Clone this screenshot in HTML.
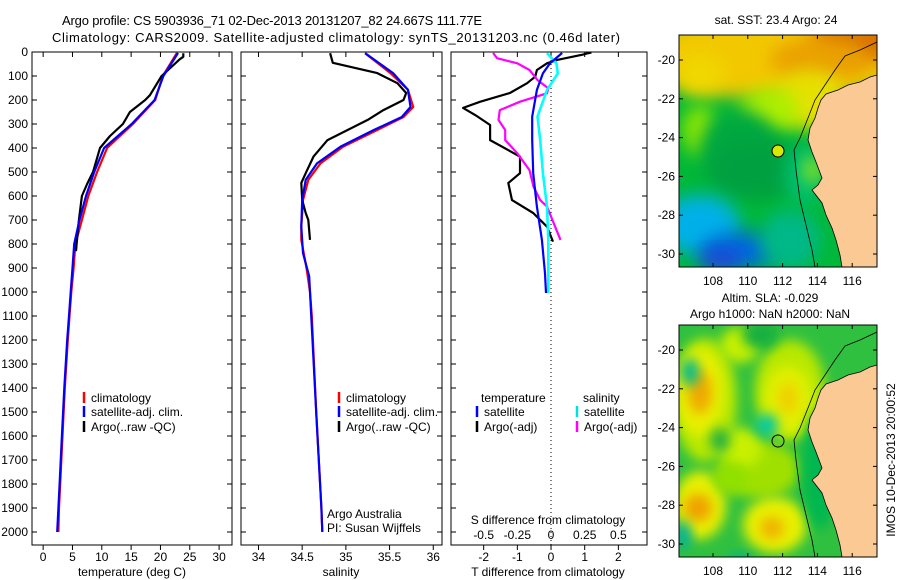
<!DOCTYPE html>
<html><head><meta charset="utf-8">
<style>
html,body{margin:0;padding:0;background:#fff;}
svg{display:block;font-family:"Liberation Sans",sans-serif;}
text{font-size:12px;fill:#000;}
</style></head>
<body>
<svg id="fig" width="900" height="580" viewBox="0 0 900 580" xmlns="http://www.w3.org/2000/svg">
<defs>
<filter id="blur8" x="-50%" y="-50%" width="200%" height="200%"><feGaussianBlur stdDeviation="9"/></filter>
<filter id="blur4" x="-50%" y="-50%" width="200%" height="200%"><feGaussianBlur stdDeviation="6"/></filter>
<clipPath id="clipTop"><rect x="679" y="35" width="198" height="232"/></clipPath>
<clipPath id="clipBot"><rect x="679" y="325" width="198" height="232"/></clipPath>
</defs>
<text x="272" y="25" text-anchor="middle" style="font-size:13px" textLength="420" lengthAdjust="spacing">Argo profile: CS 5903936_71 02-Dec-2013 20131207_82 24.667S 111.77E</text>
<text x="336" y="42" text-anchor="middle" style="font-size:13px" textLength="568" lengthAdjust="spacing">Climatology: CARS2009. Satellite-adjusted climatology: synTS_20131203.nc (0.46d later)</text>
<g id="charts"></g>
<g id="maps"></g>
</svg>
<script>
// ---- data: depths (m) and values ----
const tClimDepth = [4,100,200,300,400,500,600,700,800,900,1000,1100,1200,1400,1600,1800,1900,2000];
const tClimVal   = [22.8,20.4,19.1,15.3,10.9,9.2,7.7,6.6,5.5,5.2,4.8,4.5,4.2,3.7,3.3,2.9,2.7,2.6];
const tSatDepth  = [4,100,200,300,400,500,600,700,800,900,1000,1100,1200,1400,1600,1800,1900,2000];
const tSatVal    = [23.0,20.5,19.0,15.1,10.4,8.7,7.3,6.2,5.3,5.0,4.7,4.4,4.1,3.6,3.2,2.8,2.6,2.4];
const tArgoDepth = [5,20,30,100,180,200,250,300,350,400,500,550,600,700,800,830];
const tArgoVal   = [23.9,23.9,23.3,20.2,18.2,17.4,14.8,13.6,11.4,9.7,8.5,7.5,6.6,6.1,5.7,5.6];

const sClimDepth = [5,88,157,229,271,325,394,464,533,617,728,783,900,1000,1100,1500,1900,2000];
const sClimVal   = [35.22,35.51,35.71,35.77,35.66,35.36,34.97,34.71,34.57,34.51,34.49,34.49,34.55,34.59,34.61,34.66,34.72,34.73];
const sSatDepth  = [5,88,157,229,271,325,394,464,533,617,728,838,935,1000,1500,1900,2000];
const sSatVal    = [35.22,35.54,35.71,35.74,35.64,35.32,34.94,34.67,34.54,34.5,34.49,34.51,34.58,34.59,34.66,34.72,34.73];
const sArgoDepth = [5,45,88,130,171,200,242,283,325,367,436,505,546,617,671,700,783];
const sArgoVal   = [34.82,34.85,35.36,35.59,35.69,35.66,35.43,35.25,35.02,34.79,34.63,34.54,34.49,34.5,34.54,34.57,34.59];

const dTArgoDepth = [2,6,11,33,47,75,103,130,171,207,233,267,304,367,436,505,546,617,671,728,790];
const dTArgoVal   = [1.2,1.07,0.95,0.18,-0.12,-0.42,-0.47,-0.71,-1.22,-2.1,-2.61,-2.2,-1.81,-1.81,-0.92,-0.92,-1.27,-1.16,-0.53,-0.12,0.06];
const dTSatDepth  = [4,47,89,158,269,367,505,644,783,922,1004];
const dTSatVal    = [0.33,-0.03,-0.24,-0.42,-0.56,-0.56,-0.53,-0.42,-0.27,-0.18,-0.15];
const dSSatDepth  = [4,47,89,158,269,367,505,644,783,1004];
const dSSatVal    = [-0.03,0.04,0.05,-0.03,-0.10,-0.08,-0.06,-0.03,-0.02,-0.02];
const dSArgoDepth = [4,26,47,75,117,151,172,207,242,283,325,367,422,492,561,617,644,783];
const dSArgoVal   = [-0.43,-0.40,-0.25,-0.16,-0.10,-0.02,-0.03,-0.23,-0.38,-0.39,-0.34,-0.34,-0.25,-0.16,-0.13,-0.08,-0.03,0.07];

const depthTicks = [0,100,200,300,400,500,600,700,800,900,1000,1100,1200,1300,1400,1500,1600,1700,1800,1900,2000];
const tTicks = [0,5,10,15,20,25,30];
const sTicks = [34,34.5,35,35.5,36];
const sTickLabels = ["34","34.5","35","35.5","36"];
const dTTicks = [-2,-1,0,1,2];
const dSTicks = [-0.5,-0.25,0,0.25,0.5];
const dSTickLabels = ["-0.5","-0.25","0","0.25","0.5"];

const NS = "http://www.w3.org/2000/svg";
const TOP = 52, BOT = 545;
const yD = d => TOP + d * 0.24;
function mk(tag, attrs, parent){ const e = document.createElementNS(NS, tag); for (const k in attrs) e.setAttribute(k, attrs[k]); parent.appendChild(e); return e; }
const charts = document.getElementById('charts');

function panel(name, x0, x1, xmin, xmax, yLabels){
  const g = mk('g', {}, charts);
  
  
  const xs = v => x0 + (v - xmin) / (xmax - xmin) * (x1 - x0);
  const fr = mk('rect', {x:x0, y:TOP, width:x1-x0, height:BOT-TOP, fill:'none', stroke:'#000', 'stroke-width':1}, g);
  
  
  depthTicks.forEach(d => {
    const y = yD(d);
    mk('line', {x1:x0, x2:x0+5, y1:y, y2:y, stroke:'#000'}, g);
    mk('line', {x1:x1, x2:x1-5, y1:y, y2:y, stroke:'#000'}, g);
    if (yLabels) {
      const t = mk('text', {x:x0-4, y:y+4, 'text-anchor':'end'}, g);
      t.textContent = d;
      
      
    }
  });
  return {g, xs};
}
function xticks(p, ticks, labels){
  ticks.forEach((v,i) => {
    const x = p.xs(v);
    mk('line', {x1:x, x2:x, y1:BOT, y2:BOT+5, stroke:'#000'}, p.g);
    mk('line', {x1:x, x2:x, y1:TOP, y2:TOP+5, stroke:'#000'}, p.g);
    const t = mk('text', {x:x, y:BOT+16, 'text-anchor':'middle'}, p.g);
    t.textContent = labels ? labels[i] : v;
    
    
  });
}
function series(p, xs, depths, vals, color, name, w){
  const pts = depths.map((d,i) => xs(vals[i]).toFixed(1) + ',' + yD(d).toFixed(1)).join(' ');
  const l = mk('polyline', {points:pts, fill:'none', stroke:color, 'stroke-width':w||2.2, 'stroke-linejoin':'round'}, p.g);
  
  
}
function label(g, x, y, s, name, anchor, extra){
  const t = mk('text', Object.assign({x:x, y:y, 'text-anchor':anchor||'start'}, extra||{}), g);
  t.textContent = s;
  
  
  return t;
}
function legendRow(g, x, y, color, s, name){
  const m = mk('line', {x1:x, x2:x, y1:y-10, y2:y+1, stroke:color, 'stroke-width':2.5}, g);
  
  
  label(g, x+7, y, s, name);
}

// Panel 1: temperature
const p1 = panel('temperature-panel', 32, 232, -1.9, 32.2, true);
xticks(p1, tTicks);
series(p1, p1.xs, tClimDepth, tClimVal, '#ff0000', 'temperature-climatology-line');
series(p1, p1.xs, tArgoDepth, tArgoVal, '#000000', 'temperature-argo-line');
series(p1, p1.xs, tSatDepth, tSatVal, '#0000ff', 'temperature-satellite-line');
label(p1.g, 132, 576, 'temperature (deg C)', 'temperature-axis-title', 'middle');
legendRow(p1.g, 84, 402, '#ff0000', 'climatology', 'legend-climatology');
legendRow(p1.g, 84, 416, '#0000ff', 'satellite-adj. clim.', 'legend-satellite');
legendRow(p1.g, 84, 431, '#000000', 'Argo(..raw -QC)', 'legend-argo');

// Panel 2: salinity
const p2 = panel('salinity-panel', 241, 442, 33.8, 36.1, false);
xticks(p2, sTicks, sTickLabels);
series(p2, p2.xs, sClimDepth, sClimVal, '#ff0000', 'salinity-climatology-line');
series(p2, p2.xs, sArgoDepth, sArgoVal, '#000000', 'salinity-argo-line');
series(p2, p2.xs, sSatDepth, sSatVal, '#0000ff', 'salinity-satellite-line');
label(p2.g, 341, 576, 'salinity', 'salinity-axis-title', 'middle');
legendRow(p2.g, 339, 402, '#ff0000', 'climatology', 'legend-climatology');
legendRow(p2.g, 339, 416, '#0000ff', 'satellite-adj. clim.', 'legend-satellite');
legendRow(p2.g, 339, 431, '#000000', 'Argo(..raw -QC)', 'legend-argo');
label(p2.g, 327, 518, 'Argo Australia', 'credit-argo-australia');
label(p2.g, 327, 532, 'PI: Susan Wijffels', 'credit-pi');

// Panel 3: differences
const p3 = panel('difference-panel', 451, 647, -2.97, 2.85, false);
xticks(p3, dTTicks);
const xsS = v => p3.xs(v * 4);
const zl = mk('line', {x1:p3.xs(0), x2:p3.xs(0), y1:TOP, y2:BOT, stroke:'#000', 'stroke-dasharray':'1,3'}, p3.g);


series(p3, p3.xs, dTArgoDepth, dTArgoVal, '#000000', 'tdiff-argo-line');
series(p3, xsS, dSArgoDepth, dSArgoVal, '#ff00ff', 'sdiff-argo-line');
series(p3, xsS, dSSatDepth, dSSatVal, '#00ffff', 'sdiff-satellite-line', 2.6);
series(p3, p3.xs, dTSatDepth, dTSatVal, '#0000ff', 'tdiff-satellite-line');
dSTicks.forEach((v,i) => { label(p3.g, xsS(v), 539, dSTickLabels[i], 'sdiff-tick-label', 'middle'); });
label(p3.g, 548, 524, 'S difference from climatology', 'sdiff-axis-title', 'middle');
label(p3.g, 548, 576, 'T difference from climatology', 'tdiff-axis-title', 'middle');
label(p3.g, 481, 402, 'temperature', 'legend-temperature-header');
label(p3.g, 583, 402, 'salinity', 'legend-salinity-header');
legendRow(p3.g, 477, 416, '#0000ff', 'satellite', 'legend-t-satellite');
legendRow(p3.g, 477, 431, '#000000', 'Argo(-adj)', 'legend-t-argo');
legendRow(p3.g, 577, 416, '#00e0e0', 'satellite', 'legend-s-satellite');
legendRow(p3.g, 577, 431, '#ff00ff', 'Argo(-adj)', 'legend-s-argo');

// ---- maps ----
const maps = document.getElementById('maps');
const mapLon = [108,110,112,114,116];
const mapLat = [-20,-22,-24,-26,-28,-30];
function mapAxes(g, top, name){
  const lx = lon => 713 + (lon-108)*17.4;
  const ly = lat => top + 25 + (-20-lat)*19.4;
  const fr = mk('rect', {x:679, y:top, width:198, height:232, fill:'none', stroke:'#000'}, g);
  
  
  mapLon.forEach(l => {
    const x = lx(l);
    mk('line', {x1:x, x2:x, y1:top, y2:top+4, stroke:'#000'}, g);
    mk('line', {x1:x, x2:x, y1:top+232, y2:top+228, stroke:'#000'}, g);
    label(g, x, top+250, String(l), 'map-lon-label', 'middle');
  });
  mapLat.forEach(l => {
    const y = ly(l);
    mk('line', {x1:679, x2:683, y1:y, y2:y, stroke:'#000'}, g);
    mk('line', {x1:877, x2:873, y1:y, y2:y, stroke:'#000'}, g);
    label(g, 675, y+4, String(l), 'map-lat-label', 'end');
  });
}
function land(g, dy){
  const pts = [[877,75],[870,77],[860,82],[848,85],[838,90],[826,94],[821,100],[818,108],[815,118],[810,128],[808,140],[812,152],[816,162],[822,178],[818,185],[812,190],[822,203],[826,215],[832,228],[836,240],[840,255],[842,267],[877,267]];
  const p = mk('polygon', {points:pts.map(q=>q[0]+','+(q[1]+dy)).join(' '), fill:'#fbc993', stroke:'#000', 'stroke-width':0.8}, g);
  
  
  const c1 = [[877,42],[860,50],[845,56],[835,70],[825,85],[815,100],[808,118],[800,138],[794,150],[796,170],[800,200],[806,225],[812,250],[815,267]];
  const b = mk('polyline', {points:c1.map(q=>q[0]+','+(q[1]+dy)).join(' '), fill:'none', stroke:'#000', 'stroke-width':0.8}, g);
  
  
}
// Top: SST map
const gT = mk('g', {}, maps);


const gTc = mk('g', {'clip-path':'url(#clipTop)'}, gT);
mk('rect', {x:679, y:35, width:198, height:232, fill:'#00b838'}, gTc);
const sstBlobs = [
 [780,55,140,45,'#f2c800'],[860,42,50,20,'#d87000'],[820,60,50,22,'#eaa000'],
 [810,100,35,30,'#e6e000'],[770,110,30,22,'#b0f000'],[700,75,25,20,'#f0d800'],
 [700,130,18,25,'#90e800'],[740,150,40,40,'#00a840'],[760,170,50,30,'#00a040'],
 [700,225,40,30,'#00b0e8'],[740,250,40,18,'#0068e0'],[720,260,22,10,'#2040d8'],
 [790,240,30,30,'#00b888'],[805,175,20,30,'#00c070'],[813,170,8,12,'#c8f000']
];
sstBlobs.forEach(b => {
  const e = mk('ellipse', {cx:b[0], cy:b[1], rx:b[2], ry:b[3], fill:b[4], filter:'url(#blur8)'}, gTc);
  
  
});
land(gTc, 0);
const ct = mk('circle', {cx:778, cy:151, r:6, fill:'#d8e800', stroke:'#000'}, gT);


mapAxes(gT, 35, 'sst-map');
label(gT, 776, 24, 'sat. SST: 23.4  Argo: 24', 'sst-map-title', 'middle');

// Bottom: SLA map
const gB = mk('g', {}, maps);


const gBc = mk('g', {'clip-path':'url(#clipBot)'}, gB);
mk('rect', {x:679, y:325, width:198, height:232, fill:'#30c040'}, gBc);
const slaBlobs = [
 [705,400,32,62,'#b8e800'],[760,470,40,28,'#a0e000'],[790,390,35,50,'#b8e800'],
 [700,392,24,44,'#e8f000'],[700,392,12,22,'#f0a800'],[700,505,26,34,'#e8f000'],[698,508,14,14,'#f0a000'],
 [775,525,32,28,'#e8f000'],[772,528,12,11,'#f0b000'],[788,400,24,34,'#e0f000'],[788,398,10,16,'#f0d000'],
 [740,345,20,18,'#c8f000'],[740,448,22,20,'#c8f000'],[730,478,18,16,'#90e000'],
 [760,335,18,14,'#18b040'],[720,440,10,12,'#20b040'],
 [767,425,11,11,'#00c8a8'],[690,372,9,14,'#00b890'],[683,535,8,14,'#00b0a0'],[740,560,12,6,'#00b090'],
 [820,470,18,60,'#00b850']
];
slaBlobs.forEach(b => {
  const e = mk('ellipse', {cx:b[0], cy:b[1], rx:b[2], ry:b[3], fill:b[4], filter:'url(#blur4)'}, gBc);
  
  
});
land(gBc, 290);
const cb = mk('circle', {cx:778, cy:441, r:6, fill:'none', stroke:'#000'}, gB);


mapAxes(gB, 325, 'sla-map');
label(gB, 770, 302, 'Altim. SLA: -0.029', 'sla-map-title', 'middle');
label(gB, 770, 318, 'Argo h1000: NaN h2000: NaN', 'sla-map-subtitle', 'middle');
label(gB, 895, 460, 'IMOS 10-Dec-2013 20:00:52', 'timestamp-label', 'middle', {transform:'rotate(-90 895 460)'});
</script>
</body></html>
